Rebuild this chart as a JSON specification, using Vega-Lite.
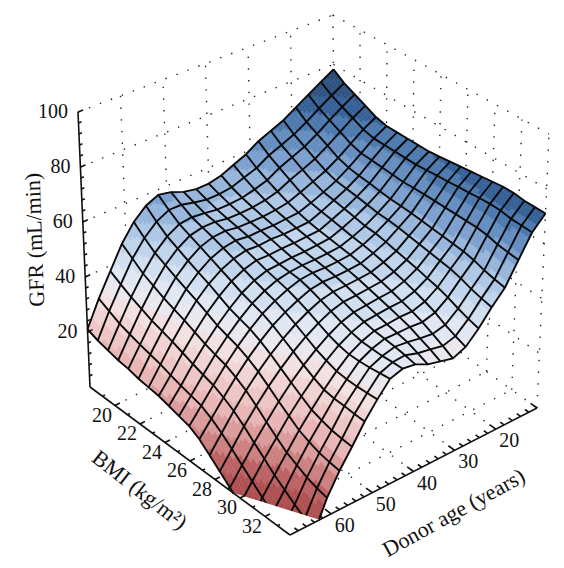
{"$schema":"https://vega.github.io/schema/vega-lite/v6.json","width":564,"height":568,"padding":0,"autosize":"none","background":"white","config":{"view":{"stroke":null}},
"datasets":{
"surface":[
{"age":70,"bmi":18,"gfr":21},{"age":70,"bmi":18.8,"gfr":19.5},{"age":70,"bmi":19.6,"gfr":18.5},{"age":70,"bmi":20.4,"gfr":17.5},{"age":70,"bmi":21.2,"gfr":17},{"age":70,"bmi":22,"gfr":16},{"age":70,"bmi":22.8,"gfr":15.5},{"age":70,"bmi":23.6,"gfr":15},{"age":70,"bmi":24.4,"gfr":14},{"age":70,"bmi":25.2,"gfr":13},{"age":70,"bmi":26,"gfr":12},{"age":70,"bmi":26.8,"gfr":10},{"age":70,"bmi":27.6,"gfr":7},{"age":70,"bmi":28.4,"gfr":4},{"age":70,"bmi":29.2,"gfr":1},{"age":70,"bmi":30,"gfr":-2},{"age":70,"bmi":30.8,"gfr":-5},{"age":70,"bmi":31.6,"gfr":-8},{"age":70,"bmi":32.4,"gfr":-11},{"age":70,"bmi":33.2,"gfr":-14},{"age":70,"bmi":34,"gfr":-16},
{"age":67,"bmi":18,"gfr":30},{"age":67,"bmi":18.8,"gfr":28},{"age":67,"bmi":19.6,"gfr":26},{"age":67,"bmi":20.4,"gfr":24.7},{"age":67,"bmi":21.2,"gfr":23.5},{"age":67,"bmi":22,"gfr":22.5},{"age":67,"bmi":22.8,"gfr":21.5},{"age":67,"bmi":23.6,"gfr":20.2},{"age":67,"bmi":24.4,"gfr":19},{"age":67,"bmi":25.2,"gfr":18},{"age":67,"bmi":26,"gfr":17},{"age":67,"bmi":26.8,"gfr":15},{"age":67,"bmi":27.6,"gfr":12.5},{"age":67,"bmi":28.4,"gfr":9.5},{"age":67,"bmi":29.2,"gfr":6.5},{"age":67,"bmi":30,"gfr":3.5},{"age":67,"bmi":30.8,"gfr":0.5},{"age":67,"bmi":31.6,"gfr":-2.3},{"age":67,"bmi":32.4,"gfr":-5},{"age":67,"bmi":33.2,"gfr":-7.5},{"age":67,"bmi":34,"gfr":-10},
{"age":64,"bmi":18,"gfr":38},{"age":64,"bmi":18.8,"gfr":35.6},{"age":64,"bmi":19.6,"gfr":33.5},{"age":64,"bmi":20.4,"gfr":31.7},{"age":64,"bmi":21.2,"gfr":30},{"age":64,"bmi":22,"gfr":28.7},{"age":64,"bmi":22.8,"gfr":27.5},{"age":64,"bmi":23.6,"gfr":26},{"age":64,"bmi":24.4,"gfr":24.5},{"age":64,"bmi":25.2,"gfr":23.2},{"age":64,"bmi":26,"gfr":22},{"age":64,"bmi":26.8,"gfr":20.2},{"age":64,"bmi":27.6,"gfr":18},{"age":64,"bmi":28.4,"gfr":15.2},{"age":64,"bmi":29.2,"gfr":12},{"age":64,"bmi":30,"gfr":9},{"age":64,"bmi":30.8,"gfr":6},{"age":64,"bmi":31.6,"gfr":3.5},{"age":64,"bmi":32.4,"gfr":1},{"age":64,"bmi":33.2,"gfr":-1.2},{"age":64,"bmi":34,"gfr":-3},
{"age":61,"bmi":18,"gfr":46},{"age":61,"bmi":18.8,"gfr":43},{"age":61,"bmi":19.6,"gfr":40},{"age":61,"bmi":20.4,"gfr":38},{"age":61,"bmi":21.2,"gfr":36},{"age":61,"bmi":22,"gfr":34.4},{"age":61,"bmi":22.8,"gfr":33},{"age":61,"bmi":23.6,"gfr":31.2},{"age":61,"bmi":24.4,"gfr":29.5},{"age":61,"bmi":25.2,"gfr":28.2},{"age":61,"bmi":26,"gfr":27},{"age":61,"bmi":26.8,"gfr":25.2},{"age":61,"bmi":27.6,"gfr":23},{"age":61,"bmi":28.4,"gfr":20.2},{"age":61,"bmi":29.2,"gfr":17},{"age":61,"bmi":30,"gfr":14.2},{"age":61,"bmi":30.8,"gfr":11.5},{"age":61,"bmi":31.6,"gfr":9.7},{"age":61,"bmi":32.4,"gfr":8},{"age":61,"bmi":33.2,"gfr":6.8},{"age":61,"bmi":34,"gfr":6},
{"age":58,"bmi":18,"gfr":52},{"age":58,"bmi":18.8,"gfr":48.5},{"age":58,"bmi":19.6,"gfr":45.5},{"age":58,"bmi":20.4,"gfr":43.5},{"age":58,"bmi":21.2,"gfr":41.5},{"age":58,"bmi":22,"gfr":39.7},{"age":58,"bmi":22.8,"gfr":38},{"age":58,"bmi":23.6,"gfr":36},{"age":58,"bmi":24.4,"gfr":34},{"age":58,"bmi":25.2,"gfr":32.7},{"age":58,"bmi":26,"gfr":31.5},{"age":58,"bmi":26.8,"gfr":29.7},{"age":58,"bmi":27.6,"gfr":27.5},{"age":58,"bmi":28.4,"gfr":24.8},{"age":58,"bmi":29.2,"gfr":22},{"age":58,"bmi":30,"gfr":19.5},{"age":58,"bmi":30.8,"gfr":17},{"age":58,"bmi":31.6,"gfr":15.5},{"age":58,"bmi":32.4,"gfr":14.2},{"age":58,"bmi":33.2,"gfr":13.5},{"age":58,"bmi":34,"gfr":13},
{"age":55,"bmi":18,"gfr":56},{"age":55,"bmi":18.8,"gfr":52.5},{"age":55,"bmi":19.6,"gfr":49.5},{"age":55,"bmi":20.4,"gfr":47.5},{"age":55,"bmi":21.2,"gfr":45.5},{"age":55,"bmi":22,"gfr":43.7},{"age":55,"bmi":22.8,"gfr":42},{"age":55,"bmi":23.6,"gfr":40},{"age":55,"bmi":24.4,"gfr":38},{"age":55,"bmi":25.2,"gfr":36.7},{"age":55,"bmi":26,"gfr":35.5},{"age":55,"bmi":26.8,"gfr":33.7},{"age":55,"bmi":27.6,"gfr":31.5},{"age":55,"bmi":28.4,"gfr":29},{"age":55,"bmi":29.2,"gfr":26.5},{"age":55,"bmi":30,"gfr":24.2},{"age":55,"bmi":30.8,"gfr":22},{"age":55,"bmi":31.6,"gfr":20.8},{"age":55,"bmi":32.4,"gfr":19.8},{"age":55,"bmi":33.2,"gfr":19.3},{"age":55,"bmi":34,"gfr":19},
{"age":52,"bmi":18,"gfr":58},{"age":52,"bmi":18.8,"gfr":54.8},{"age":52,"bmi":19.6,"gfr":52},{"age":52,"bmi":20.4,"gfr":50.2},{"age":52,"bmi":21.2,"gfr":48.5},{"age":52,"bmi":22,"gfr":46.7},{"age":52,"bmi":22.8,"gfr":45},{"age":52,"bmi":23.6,"gfr":43.3},{"age":52,"bmi":24.4,"gfr":41.5},{"age":52,"bmi":25.2,"gfr":40.2},{"age":52,"bmi":26,"gfr":39},{"age":52,"bmi":26.8,"gfr":37.2},{"age":52,"bmi":27.6,"gfr":35},{"age":52,"bmi":28.4,"gfr":32.8},{"age":52,"bmi":29.2,"gfr":30.5},{"age":52,"bmi":30,"gfr":28.5},{"age":52,"bmi":30.8,"gfr":26.8},{"age":52,"bmi":31.6,"gfr":26.2},{"age":52,"bmi":32.4,"gfr":26},{"age":52,"bmi":33.2,"gfr":25.7},{"age":52,"bmi":34,"gfr":25.5},
{"age":49,"bmi":18,"gfr":57},{"age":49,"bmi":18.8,"gfr":54.7},{"age":49,"bmi":19.6,"gfr":52.5},{"age":49,"bmi":20.4,"gfr":51.2},{"age":49,"bmi":21.2,"gfr":50},{"age":49,"bmi":22,"gfr":48.5},{"age":49,"bmi":22.8,"gfr":47},{"age":49,"bmi":23.6,"gfr":45.5},{"age":49,"bmi":24.4,"gfr":44},{"age":49,"bmi":25.2,"gfr":42.7},{"age":49,"bmi":26,"gfr":41.5},{"age":49,"bmi":26.8,"gfr":39.9},{"age":49,"bmi":27.6,"gfr":38},{"age":49,"bmi":28.4,"gfr":36},{"age":49,"bmi":29.2,"gfr":34},{"age":49,"bmi":30,"gfr":32.5},{"age":49,"bmi":30.8,"gfr":31.2},{"age":49,"bmi":31.6,"gfr":30.8},{"age":49,"bmi":32.4,"gfr":30.7},{"age":49,"bmi":33.2,"gfr":30.8},{"age":49,"bmi":34,"gfr":31},
{"age":46,"bmi":18,"gfr":55},{"age":46,"bmi":18.8,"gfr":53.5},{"age":46,"bmi":19.6,"gfr":52},{"age":46,"bmi":20.4,"gfr":51.2},{"age":46,"bmi":21.2,"gfr":50.3},{"age":46,"bmi":22,"gfr":49.2},{"age":46,"bmi":22.8,"gfr":48},{"age":46,"bmi":23.6,"gfr":46.8},{"age":46,"bmi":24.4,"gfr":45.5},{"age":46,"bmi":25.2,"gfr":44.5},{"age":46,"bmi":26,"gfr":43.5},{"age":46,"bmi":26.8,"gfr":42.1},{"age":46,"bmi":27.6,"gfr":40.5},{"age":46,"bmi":28.4,"gfr":38.8},{"age":46,"bmi":29.2,"gfr":37},{"age":46,"bmi":30,"gfr":35.8},{"age":46,"bmi":30.8,"gfr":35},{"age":46,"bmi":31.6,"gfr":35},{"age":46,"bmi":32.4,"gfr":35.2},{"age":46,"bmi":33.2,"gfr":35.6},{"age":46,"bmi":34,"gfr":36},
{"age":43,"bmi":18,"gfr":54},{"age":43,"bmi":18.8,"gfr":52.5},{"age":43,"bmi":19.6,"gfr":51.2},{"age":43,"bmi":20.4,"gfr":50.3},{"age":43,"bmi":21.2,"gfr":49.5},{"age":43,"bmi":22,"gfr":48.6},{"age":43,"bmi":22.8,"gfr":47.7},{"age":43,"bmi":23.6,"gfr":46.7},{"age":43,"bmi":24.4,"gfr":45.8},{"age":43,"bmi":25.2,"gfr":45.4},{"age":43,"bmi":26,"gfr":45},{"age":43,"bmi":26.8,"gfr":43.9},{"age":43,"bmi":27.6,"gfr":42.5},{"age":43,"bmi":28.4,"gfr":41},{"age":43,"bmi":29.2,"gfr":39.5},{"age":43,"bmi":30,"gfr":38.3},{"age":43,"bmi":30.8,"gfr":37.5},{"age":43,"bmi":31.6,"gfr":37.3},{"age":43,"bmi":32.4,"gfr":37.2},{"age":43,"bmi":33.2,"gfr":37.4},{"age":43,"bmi":34,"gfr":37.5},
{"age":40,"bmi":18,"gfr":54},{"age":40,"bmi":18.8,"gfr":52.5},{"age":40,"bmi":19.6,"gfr":51.2},{"age":40,"bmi":20.4,"gfr":50.2},{"age":40,"bmi":21.2,"gfr":49.4},{"age":40,"bmi":22,"gfr":48.7},{"age":40,"bmi":22.8,"gfr":48},{"age":40,"bmi":23.6,"gfr":47},{"age":40,"bmi":24.4,"gfr":46.2},{"age":40,"bmi":25.2,"gfr":45.8},{"age":40,"bmi":26,"gfr":45.5},{"age":40,"bmi":26.8,"gfr":44.6},{"age":40,"bmi":27.6,"gfr":43.5},{"age":40,"bmi":28.4,"gfr":42.3},{"age":40,"bmi":29.2,"gfr":41},{"age":40,"bmi":30,"gfr":40},{"age":40,"bmi":30.8,"gfr":39.2},{"age":40,"bmi":31.6,"gfr":38.8},{"age":40,"bmi":32.4,"gfr":38.4},{"age":40,"bmi":33.2,"gfr":37.8},{"age":40,"bmi":34,"gfr":37},
{"age":37,"bmi":18,"gfr":55},{"age":37,"bmi":18.8,"gfr":53},{"age":37,"bmi":19.6,"gfr":51.5},{"age":37,"bmi":20.4,"gfr":50.4},{"age":37,"bmi":21.2,"gfr":49.4},{"age":37,"bmi":22,"gfr":48.6},{"age":37,"bmi":22.8,"gfr":47.8},{"age":37,"bmi":23.6,"gfr":47},{"age":37,"bmi":24.4,"gfr":46.3},{"age":37,"bmi":25.2,"gfr":45.8},{"age":37,"bmi":26,"gfr":45.3},{"age":37,"bmi":26.8,"gfr":44.6},{"age":37,"bmi":27.6,"gfr":43.7},{"age":37,"bmi":28.4,"gfr":42.6},{"age":37,"bmi":29.2,"gfr":41.5},{"age":37,"bmi":30,"gfr":40.5},{"age":37,"bmi":30.8,"gfr":39.5},{"age":37,"bmi":31.6,"gfr":38.8},{"age":37,"bmi":32.4,"gfr":38},{"age":37,"bmi":33.2,"gfr":36.5},{"age":37,"bmi":34,"gfr":35},
{"age":34,"bmi":18,"gfr":57},{"age":34,"bmi":18.8,"gfr":54.6},{"age":34,"bmi":19.6,"gfr":52.6},{"age":34,"bmi":20.4,"gfr":51},{"age":34,"bmi":21.2,"gfr":49.8},{"age":34,"bmi":22,"gfr":48.9},{"age":34,"bmi":22.8,"gfr":48},{"age":34,"bmi":23.6,"gfr":47.3},{"age":34,"bmi":24.4,"gfr":46.6},{"age":34,"bmi":25.2,"gfr":46},{"age":34,"bmi":26,"gfr":45.5},{"age":34,"bmi":26.8,"gfr":44.8},{"age":34,"bmi":27.6,"gfr":44},{"age":34,"bmi":28.4,"gfr":43},{"age":34,"bmi":29.2,"gfr":42},{"age":34,"bmi":30,"gfr":41},{"age":34,"bmi":30.8,"gfr":40},{"age":34,"bmi":31.6,"gfr":38.9},{"age":34,"bmi":32.4,"gfr":37.3},{"age":34,"bmi":33.2,"gfr":35.8},{"age":34,"bmi":34,"gfr":34},
{"age":31,"bmi":18,"gfr":59},{"age":31,"bmi":18.8,"gfr":56.2},{"age":31,"bmi":19.6,"gfr":54},{"age":31,"bmi":20.4,"gfr":52.2},{"age":31,"bmi":21.2,"gfr":50.5},{"age":31,"bmi":22,"gfr":49.2},{"age":31,"bmi":22.8,"gfr":48.2},{"age":31,"bmi":23.6,"gfr":47.5},{"age":31,"bmi":24.4,"gfr":47},{"age":31,"bmi":25.2,"gfr":46.4},{"age":31,"bmi":26,"gfr":45.9},{"age":31,"bmi":26.8,"gfr":45.2},{"age":31,"bmi":27.6,"gfr":44.4},{"age":31,"bmi":28.4,"gfr":43.5},{"age":31,"bmi":29.2,"gfr":42.4},{"age":31,"bmi":30,"gfr":41.2},{"age":31,"bmi":30.8,"gfr":40},{"age":31,"bmi":31.6,"gfr":38.6},{"age":31,"bmi":32.4,"gfr":36.8},{"age":31,"bmi":33.2,"gfr":35},{"age":31,"bmi":34,"gfr":33},
{"age":28,"bmi":18,"gfr":62},{"age":28,"bmi":18.8,"gfr":59},{"age":28,"bmi":19.6,"gfr":56.7},{"age":28,"bmi":20.4,"gfr":54.5},{"age":28,"bmi":21.2,"gfr":52.3},{"age":28,"bmi":22,"gfr":50.8},{"age":28,"bmi":22.8,"gfr":50},{"age":28,"bmi":23.6,"gfr":49.4},{"age":28,"bmi":24.4,"gfr":48.7},{"age":28,"bmi":25.2,"gfr":48},{"age":28,"bmi":26,"gfr":47.5},{"age":28,"bmi":26.8,"gfr":46.9},{"age":28,"bmi":27.6,"gfr":46},{"age":28,"bmi":28.4,"gfr":45},{"age":28,"bmi":29.2,"gfr":44},{"age":28,"bmi":30,"gfr":42.8},{"age":28,"bmi":30.8,"gfr":41.5},{"age":28,"bmi":31.6,"gfr":40},{"age":28,"bmi":32.4,"gfr":38},{"age":28,"bmi":33.2,"gfr":36.4},{"age":28,"bmi":34,"gfr":35},
{"age":25,"bmi":18,"gfr":64},{"age":25,"bmi":18.8,"gfr":60.9},{"age":25,"bmi":19.6,"gfr":58.7},{"age":25,"bmi":20.4,"gfr":56.4},{"age":25,"bmi":21.2,"gfr":54.3},{"age":25,"bmi":22,"gfr":52.8},{"age":25,"bmi":22.8,"gfr":52.2},{"age":25,"bmi":23.6,"gfr":51.5},{"age":25,"bmi":24.4,"gfr":50.8},{"age":25,"bmi":25.2,"gfr":50},{"age":25,"bmi":26,"gfr":49.7},{"age":25,"bmi":26.8,"gfr":49},{"age":25,"bmi":27.6,"gfr":48.1},{"age":25,"bmi":28.4,"gfr":47.3},{"age":25,"bmi":29.2,"gfr":46.5},{"age":25,"bmi":30,"gfr":45.5},{"age":25,"bmi":30.8,"gfr":44.6},{"age":25,"bmi":31.6,"gfr":43.4},{"age":25,"bmi":32.4,"gfr":41.8},{"age":25,"bmi":33.2,"gfr":40.5},{"age":25,"bmi":34,"gfr":39.5},
{"age":22,"bmi":18,"gfr":66},{"age":22,"bmi":18.8,"gfr":63},{"age":22,"bmi":19.6,"gfr":60.7},{"age":22,"bmi":20.4,"gfr":58.5},{"age":22,"bmi":21.2,"gfr":56.4},{"age":22,"bmi":22,"gfr":55},{"age":22,"bmi":22.8,"gfr":54.5},{"age":22,"bmi":23.6,"gfr":54},{"age":22,"bmi":24.4,"gfr":53.4},{"age":22,"bmi":25.2,"gfr":52.8},{"age":22,"bmi":26,"gfr":52.6},{"age":22,"bmi":26.8,"gfr":52.2},{"age":22,"bmi":27.6,"gfr":51.6},{"age":22,"bmi":28.4,"gfr":51},{"age":22,"bmi":29.2,"gfr":50.4},{"age":22,"bmi":30,"gfr":49.8},{"age":22,"bmi":30.8,"gfr":49.2},{"age":22,"bmi":31.6,"gfr":48.2},{"age":22,"bmi":32.4,"gfr":46.8},{"age":22,"bmi":33.2,"gfr":45.8},{"age":22,"bmi":34,"gfr":45},
{"age":19,"bmi":18,"gfr":69},{"age":19,"bmi":18.8,"gfr":65.8},{"age":19,"bmi":19.6,"gfr":63.6},{"age":19,"bmi":20.4,"gfr":61.5},{"age":19,"bmi":21.2,"gfr":59.3},{"age":19,"bmi":22,"gfr":58},{"age":19,"bmi":22.8,"gfr":57.4},{"age":19,"bmi":23.6,"gfr":57},{"age":19,"bmi":24.4,"gfr":56.5},{"age":19,"bmi":25.2,"gfr":56},{"age":19,"bmi":26,"gfr":55.8},{"age":19,"bmi":26.8,"gfr":55.6},{"age":19,"bmi":27.6,"gfr":55.2},{"age":19,"bmi":28.4,"gfr":54.8},{"age":19,"bmi":29.2,"gfr":54.4},{"age":19,"bmi":30,"gfr":54},{"age":19,"bmi":30.8,"gfr":53.6},{"age":19,"bmi":31.6,"gfr":52.8},{"age":19,"bmi":32.4,"gfr":51.5},{"age":19,"bmi":33.2,"gfr":50.7},{"age":19,"bmi":34,"gfr":50},
{"age":16,"bmi":18,"gfr":72},{"age":16,"bmi":18.8,"gfr":69},{"age":16,"bmi":19.6,"gfr":66.9},{"age":16,"bmi":20.4,"gfr":64.8},{"age":16,"bmi":21.2,"gfr":62.7},{"age":16,"bmi":22,"gfr":61.5},{"age":16,"bmi":22.8,"gfr":61.3},{"age":16,"bmi":23.6,"gfr":61},{"age":16,"bmi":24.4,"gfr":60.7},{"age":16,"bmi":25.2,"gfr":60.4},{"age":16,"bmi":26,"gfr":60.6},{"age":16,"bmi":26.8,"gfr":60.6},{"age":16,"bmi":27.6,"gfr":60.6},{"age":16,"bmi":28.4,"gfr":60.5},{"age":16,"bmi":29.2,"gfr":60.5},{"age":16,"bmi":30,"gfr":60.4},{"age":16,"bmi":30.8,"gfr":60.4},{"age":16,"bmi":31.6,"gfr":59.9},{"age":16,"bmi":32.4,"gfr":58.9},{"age":16,"bmi":33.2,"gfr":58.4},{"age":16,"bmi":34,"gfr":58},
{"age":13,"bmi":18,"gfr":75},{"age":13,"bmi":18.8,"gfr":72.1},{"age":13,"bmi":19.6,"gfr":70.1},{"age":13,"bmi":20.4,"gfr":68.2},{"age":13,"bmi":21.2,"gfr":66.2},{"age":13,"bmi":22,"gfr":65.2},{"age":13,"bmi":22.8,"gfr":65.1},{"age":13,"bmi":23.6,"gfr":65.1},{"age":13,"bmi":24.4,"gfr":65},{"age":13,"bmi":25.2,"gfr":65},{"age":13,"bmi":26,"gfr":65.3},{"age":13,"bmi":26.8,"gfr":65.7},{"age":13,"bmi":27.6,"gfr":65.9},{"age":13,"bmi":28.4,"gfr":66.3},{"age":13,"bmi":29.2,"gfr":66.5},{"age":13,"bmi":30,"gfr":66.9},{"age":13,"bmi":30.8,"gfr":67.1},{"age":13,"bmi":31.6,"gfr":67},{"age":13,"bmi":32.4,"gfr":66.3},{"age":13,"bmi":33.2,"gfr":66.2},{"age":13,"bmi":34,"gfr":66},
{"age":10,"bmi":18,"gfr":78},{"age":10,"bmi":18.8,"gfr":75},{"age":10,"bmi":19.6,"gfr":73},{"age":10,"bmi":20.4,"gfr":71},{"age":10,"bmi":21.2,"gfr":69},{"age":10,"bmi":22,"gfr":68},{"age":10,"bmi":22.8,"gfr":68},{"age":10,"bmi":23.6,"gfr":68},{"age":10,"bmi":24.4,"gfr":68},{"age":10,"bmi":25.2,"gfr":68},{"age":10,"bmi":26,"gfr":68.5},{"age":10,"bmi":26.8,"gfr":69},{"age":10,"bmi":27.6,"gfr":69.5},{"age":10,"bmi":28.4,"gfr":70},{"age":10,"bmi":29.2,"gfr":70.5},{"age":10,"bmi":30,"gfr":71},{"age":10,"bmi":30.8,"gfr":71.5},{"age":10,"bmi":31.6,"gfr":71.5},{"age":10,"bmi":32.4,"gfr":71},{"age":10,"bmi":33.2,"gfr":71},{"age":10,"bmi":34,"gfr":71}
],
"grid":[
{"bmi":18,"age":70,"gfr":20,"bmi2":18,"age2":10,"gfr2":20},{"bmi":18,"age":70,"gfr":40,"bmi2":18,"age2":10,"gfr2":40},{"bmi":18,"age":70,"gfr":60,"bmi2":18,"age2":10,"gfr2":60},{"bmi":18,"age":70,"gfr":80,"bmi2":18,"age2":10,"gfr2":80},{"bmi":18,"age":70,"gfr":100,"bmi2":18,"age2":10,"gfr2":100},
{"bmi":18,"age":60,"gfr":0,"bmi2":18,"age2":60,"gfr2":100},{"bmi":18,"age":50,"gfr":0,"bmi2":18,"age2":50,"gfr2":100},{"bmi":18,"age":40,"gfr":0,"bmi2":18,"age2":40,"gfr2":100},{"bmi":18,"age":30,"gfr":0,"bmi2":18,"age2":30,"gfr2":100},{"bmi":18,"age":20,"gfr":0,"bmi2":18,"age2":20,"gfr2":100},{"bmi":18,"age":10,"gfr":0,"bmi2":18,"age2":10,"gfr2":100},
{"bmi":18,"age":10,"gfr":20,"bmi2":34,"age2":10,"gfr2":20},{"bmi":18,"age":10,"gfr":40,"bmi2":34,"age2":10,"gfr2":40},{"bmi":18,"age":10,"gfr":60,"bmi2":34,"age2":10,"gfr2":60},{"bmi":18,"age":10,"gfr":80,"bmi2":34,"age2":10,"gfr2":80},{"bmi":18,"age":10,"gfr":100,"bmi2":34,"age2":10,"gfr2":100},
{"bmi":20,"age":10,"gfr":0,"bmi2":20,"age2":10,"gfr2":100},{"bmi":22,"age":10,"gfr":0,"bmi2":22,"age2":10,"gfr2":100},{"bmi":24,"age":10,"gfr":0,"bmi2":24,"age2":10,"gfr2":100},{"bmi":26,"age":10,"gfr":0,"bmi2":26,"age2":10,"gfr2":100},{"bmi":28,"age":10,"gfr":0,"bmi2":28,"age2":10,"gfr2":100},{"bmi":30,"age":10,"gfr":0,"bmi2":30,"age2":10,"gfr2":100},{"bmi":32,"age":10,"gfr":0,"bmi2":32,"age2":10,"gfr2":100},{"bmi":34,"age":10,"gfr":0,"bmi2":34,"age2":10,"gfr2":100},
{"bmi":20,"age":70,"gfr":0,"bmi2":20,"age2":10,"gfr2":0},{"bmi":22,"age":70,"gfr":0,"bmi2":22,"age2":10,"gfr2":0},{"bmi":24,"age":70,"gfr":0,"bmi2":24,"age2":10,"gfr2":0},{"bmi":26,"age":70,"gfr":0,"bmi2":26,"age2":10,"gfr2":0},{"bmi":28,"age":70,"gfr":0,"bmi2":28,"age2":10,"gfr2":0},{"bmi":30,"age":70,"gfr":0,"bmi2":30,"age2":10,"gfr2":0},{"bmi":32,"age":70,"gfr":0,"bmi2":32,"age2":10,"gfr2":0},
{"bmi":18,"age":60,"gfr":0,"bmi2":34,"age2":60,"gfr2":0},{"bmi":18,"age":50,"gfr":0,"bmi2":34,"age2":50,"gfr2":0},{"bmi":18,"age":40,"gfr":0,"bmi2":34,"age2":40,"gfr2":0},{"bmi":18,"age":30,"gfr":0,"bmi2":34,"age2":30,"gfr2":0},{"bmi":18,"age":20,"gfr":0,"bmi2":34,"age2":20,"gfr2":0},{"bmi":18,"age":10,"gfr":0,"bmi2":34,"age2":10,"gfr2":0}
],
"axes":[
{"bmi":18,"age":70,"gfr":0,"bmi2":18,"age2":70,"gfr2":100},{"bmi":18,"age":70,"gfr":0,"bmi2":34,"age2":70,"gfr2":0},{"bmi":34,"age":70,"gfr":0,"bmi2":34,"age2":10,"gfr2":0},
{"bmi":18,"age":70,"gfr":4,"bmi2":18,"age2":69.3,"gfr2":4},{"bmi":18,"age":70,"gfr":8,"bmi2":18,"age2":69.3,"gfr2":8},{"bmi":18,"age":70,"gfr":12,"bmi2":18,"age2":69.3,"gfr2":12},{"bmi":18,"age":70,"gfr":16,"bmi2":18,"age2":69.3,"gfr2":16},{"bmi":18,"age":70,"gfr":20,"bmi2":18,"age2":68.8,"gfr2":20},{"bmi":18,"age":70,"gfr":24,"bmi2":18,"age2":69.3,"gfr2":24},{"bmi":18,"age":70,"gfr":28,"bmi2":18,"age2":69.3,"gfr2":28},{"bmi":18,"age":70,"gfr":32,"bmi2":18,"age2":69.3,"gfr2":32},{"bmi":18,"age":70,"gfr":36,"bmi2":18,"age2":69.3,"gfr2":36},{"bmi":18,"age":70,"gfr":40,"bmi2":18,"age2":68.8,"gfr2":40},{"bmi":18,"age":70,"gfr":44,"bmi2":18,"age2":69.3,"gfr2":44},{"bmi":18,"age":70,"gfr":48,"bmi2":18,"age2":69.3,"gfr2":48},{"bmi":18,"age":70,"gfr":52,"bmi2":18,"age2":69.3,"gfr2":52},{"bmi":18,"age":70,"gfr":56,"bmi2":18,"age2":69.3,"gfr2":56},{"bmi":18,"age":70,"gfr":60,"bmi2":18,"age2":68.8,"gfr2":60},{"bmi":18,"age":70,"gfr":64,"bmi2":18,"age2":69.3,"gfr2":64},{"bmi":18,"age":70,"gfr":68,"bmi2":18,"age2":69.3,"gfr2":68},{"bmi":18,"age":70,"gfr":72,"bmi2":18,"age2":69.3,"gfr2":72},{"bmi":18,"age":70,"gfr":76,"bmi2":18,"age2":69.3,"gfr2":76},{"bmi":18,"age":70,"gfr":80,"bmi2":18,"age2":68.8,"gfr2":80},{"bmi":18,"age":70,"gfr":84,"bmi2":18,"age2":69.3,"gfr2":84},{"bmi":18,"age":70,"gfr":88,"bmi2":18,"age2":69.3,"gfr2":88},{"bmi":18,"age":70,"gfr":92,"bmi2":18,"age2":69.3,"gfr2":92},{"bmi":18,"age":70,"gfr":96,"bmi2":18,"age2":69.3,"gfr2":96},{"bmi":18,"age":70,"gfr":100,"bmi2":18,"age2":68.8,"gfr2":100},
{"bmi":19,"age":70,"gfr":0,"bmi2":19,"age2":69.4,"gfr2":0},{"bmi":20,"age":70,"gfr":0,"bmi2":20,"age2":68.8,"gfr2":0},{"bmi":21,"age":70,"gfr":0,"bmi2":21,"age2":69.4,"gfr2":0},{"bmi":22,"age":70,"gfr":0,"bmi2":22,"age2":68.8,"gfr2":0},{"bmi":23,"age":70,"gfr":0,"bmi2":23,"age2":69.4,"gfr2":0},{"bmi":24,"age":70,"gfr":0,"bmi2":24,"age2":68.8,"gfr2":0},{"bmi":25,"age":70,"gfr":0,"bmi2":25,"age2":69.4,"gfr2":0},{"bmi":26,"age":70,"gfr":0,"bmi2":26,"age2":68.8,"gfr2":0},{"bmi":27,"age":70,"gfr":0,"bmi2":27,"age2":69.4,"gfr2":0},{"bmi":28,"age":70,"gfr":0,"bmi2":28,"age2":68.8,"gfr2":0},{"bmi":29,"age":70,"gfr":0,"bmi2":29,"age2":69.4,"gfr2":0},{"bmi":30,"age":70,"gfr":0,"bmi2":30,"age2":68.8,"gfr2":0},{"bmi":31,"age":70,"gfr":0,"bmi2":31,"age2":69.4,"gfr2":0},{"bmi":32,"age":70,"gfr":0,"bmi2":32,"age2":68.8,"gfr2":0},{"bmi":33,"age":70,"gfr":0,"bmi2":33,"age2":69.4,"gfr2":0},
{"bmi":34,"age":68,"gfr":0,"bmi2":33.7,"age2":68,"gfr2":0},{"bmi":34,"age":66,"gfr":0,"bmi2":33.7,"age2":66,"gfr2":0},{"bmi":34,"age":64,"gfr":0,"bmi2":33.7,"age2":64,"gfr2":0},{"bmi":34,"age":62,"gfr":0,"bmi2":33.7,"age2":62,"gfr2":0},{"bmi":34,"age":60,"gfr":0,"bmi2":33.5,"age2":60,"gfr2":0},{"bmi":34,"age":58,"gfr":0,"bmi2":33.7,"age2":58,"gfr2":0},{"bmi":34,"age":56,"gfr":0,"bmi2":33.7,"age2":56,"gfr2":0},{"bmi":34,"age":54,"gfr":0,"bmi2":33.7,"age2":54,"gfr2":0},{"bmi":34,"age":52,"gfr":0,"bmi2":33.7,"age2":52,"gfr2":0},{"bmi":34,"age":50,"gfr":0,"bmi2":33.5,"age2":50,"gfr2":0},{"bmi":34,"age":48,"gfr":0,"bmi2":33.7,"age2":48,"gfr2":0},{"bmi":34,"age":46,"gfr":0,"bmi2":33.7,"age2":46,"gfr2":0},{"bmi":34,"age":44,"gfr":0,"bmi2":33.7,"age2":44,"gfr2":0},{"bmi":34,"age":42,"gfr":0,"bmi2":33.7,"age2":42,"gfr2":0},{"bmi":34,"age":40,"gfr":0,"bmi2":33.5,"age2":40,"gfr2":0},{"bmi":34,"age":38,"gfr":0,"bmi2":33.7,"age2":38,"gfr2":0},{"bmi":34,"age":36,"gfr":0,"bmi2":33.7,"age2":36,"gfr2":0},{"bmi":34,"age":34,"gfr":0,"bmi2":33.7,"age2":34,"gfr2":0},{"bmi":34,"age":32,"gfr":0,"bmi2":33.7,"age2":32,"gfr2":0},{"bmi":34,"age":30,"gfr":0,"bmi2":33.5,"age2":30,"gfr2":0},{"bmi":34,"age":28,"gfr":0,"bmi2":33.7,"age2":28,"gfr2":0},{"bmi":34,"age":26,"gfr":0,"bmi2":33.7,"age2":26,"gfr2":0},{"bmi":34,"age":24,"gfr":0,"bmi2":33.7,"age2":24,"gfr2":0},{"bmi":34,"age":22,"gfr":0,"bmi2":33.7,"age2":22,"gfr2":0},{"bmi":34,"age":20,"gfr":0,"bmi2":33.5,"age2":20,"gfr2":0},{"bmi":34,"age":18,"gfr":0,"bmi2":33.7,"age2":18,"gfr2":0},{"bmi":34,"age":16,"gfr":0,"bmi2":33.7,"age2":16,"gfr2":0},{"bmi":34,"age":14,"gfr":0,"bmi2":33.7,"age2":14,"gfr2":0},{"bmi":34,"age":12,"gfr":0,"bmi2":33.7,"age2":12,"gfr2":0},{"bmi":34,"age":10,"gfr":0,"bmi2":33.5,"age2":10,"gfr2":0}
]
},
"layer":[
{"data":{"name":"grid"},"mark":{"type":"rule","color":"#222222","strokeWidth":1.4,"strokeDash":[1.4,10.3]},
"transform":[{"calculate":"(datum.bmi-18)/16","as":"u"},{"calculate":"(70-datum.age)/60","as":"v"},{"calculate":"datum.gfr/100","as":"w"},{"calculate":"(datum.bmi2-18)/16","as":"p"},{"calculate":"(70-datum.age2)/60","as":"q"},{"calculate":"datum.gfr2/100","as":"r"},
{"calculate":"90+200*datum.u+245*datum.v+2*datum.u*datum.v+datum.w*(-12+10*datum.u+10*datum.v+4*datum.u*datum.v)","as":"x"},{"calculate":"387+148*datum.u-125*datum.v-2*datum.u*datum.v+datum.w*(-275-30*datum.u+28*datum.v+3*datum.u*datum.v)","as":"y"},
{"calculate":"90+200*datum.p+245*datum.q+2*datum.p*datum.q+datum.r*(-12+10*datum.p+10*datum.q+4*datum.p*datum.q)","as":"x2"},{"calculate":"387+148*datum.p-125*datum.q-2*datum.p*datum.q+datum.r*(-275-30*datum.p+28*datum.q+3*datum.p*datum.q)","as":"y2"}],
"encoding":{"x":{"field":"x","type":"quantitative","axis":null,"scale":{"domain":[0,564],"range":[0,564],"nice":false,"zero":false}},"y":{"field":"y","type":"quantitative","axis":null,"scale":{"domain":[0,568],"range":[0,568],"nice":false,"zero":false}},"x2":{"field":"x2"},"y2":{"field":"y2"}}},
{"data":{"name":"surface"},"mark":{"type":"geoshape","strokeWidth":0.5},"projection":{"type":"identity","scale":1,"translate":[0,0]},
"transform":[
{"window":[{"op":"lead","field":"gfr","as":"g10"}],"groupby":["age"],"sort":[{"field":"bmi","order":"ascending"}]},
{"window":[{"op":"lead","field":"gfr","as":"g01"},{"op":"lead","field":"g10","as":"g11"}],"groupby":["bmi"],"sort":[{"field":"age","order":"descending"}]},
{"filter":"datum.g10!=null&&datum.g01!=null&&datum.g11!=null"},
{"calculate":"(datum.bmi-18)/16","as":"u"},{"calculate":"(70-datum.age)/60","as":"v"},{"calculate":"datum.u+0.05","as":"p"},{"calculate":"datum.v+0.05","as":"q"},
{"calculate":"90+200*datum.u+245*datum.v+2*datum.u*datum.v+datum.gfr/100*(-12+10*datum.u+10*datum.v+4*datum.u*datum.v)","as":"X00"},
{"calculate":"90+200*datum.p+245*datum.v+2*datum.p*datum.v+datum.g10/100*(-12+10*datum.p+10*datum.v+4*datum.p*datum.v)","as":"X10"},
{"calculate":"90+200*datum.u+245*datum.q+2*datum.u*datum.q+datum.g01/100*(-12+10*datum.u+10*datum.q+4*datum.u*datum.q)","as":"X01"},
{"calculate":"90+200*datum.p+245*datum.q+2*datum.p*datum.q+datum.g11/100*(-12+10*datum.p+10*datum.q+4*datum.p*datum.q)","as":"X11"},
{"calculate":"387+148*datum.u-125*datum.v-2*datum.u*datum.v+datum.gfr/100*(-275-30*datum.u+28*datum.v+3*datum.u*datum.v)","as":"Y00"},
{"calculate":"387+148*datum.p-125*datum.v-2*datum.p*datum.v+datum.g10/100*(-275-30*datum.p+28*datum.v+3*datum.p*datum.v)","as":"Y10"},
{"calculate":"387+148*datum.u-125*datum.q-2*datum.u*datum.q+datum.g01/100*(-275-30*datum.u+28*datum.q+3*datum.u*datum.q)","as":"Y01"},
{"calculate":"387+148*datum.p-125*datum.q-2*datum.p*datum.q+datum.g11/100*(-275-30*datum.p+28*datum.q+3*datum.p*datum.q)","as":"Y11"},
{"calculate":"datum.X10-datum.X00","as":"Ax"},{"calculate":"datum.X01-datum.X00","as":"Bx"},{"calculate":"datum.X11-datum.X10-datum.X01+datum.X00","as":"Cx"},
{"calculate":"datum.Y10-datum.Y00","as":"Ay"},{"calculate":"datum.Y01-datum.Y00","as":"By"},{"calculate":"datum.Y11-datum.Y10-datum.Y01+datum.Y00","as":"Cy"},
{"calculate":"[0,0.2,0.4,0.6,0.8]","as":"sa"},{"flatten":["sa"]},{"calculate":"[0,0.2,0.4,0.6,0.8]","as":"sb"},{"flatten":["sb"]},
{"calculate":"datum.sa+0.2","as":"ea"},{"calculate":"datum.sb+0.2","as":"eb"},
{"calculate":"{type:'Feature',properties:{},geometry:{type:'Polygon',coordinates:[[[datum.X00+datum.Ax*datum.sa+datum.Bx*datum.sb+datum.Cx*datum.sa*datum.sb,datum.Y00+datum.Ay*datum.sa+datum.By*datum.sb+datum.Cy*datum.sa*datum.sb],[datum.X00+datum.Ax*datum.ea+datum.Bx*datum.sb+datum.Cx*datum.ea*datum.sb,datum.Y00+datum.Ay*datum.ea+datum.By*datum.sb+datum.Cy*datum.ea*datum.sb],[datum.X00+datum.Ax*datum.ea+datum.Bx*datum.eb+datum.Cx*datum.ea*datum.eb,datum.Y00+datum.Ay*datum.ea+datum.By*datum.eb+datum.Cy*datum.ea*datum.eb],[datum.X00+datum.Ax*datum.sa+datum.Bx*datum.eb+datum.Cx*datum.sa*datum.eb,datum.Y00+datum.Ay*datum.sa+datum.By*datum.eb+datum.Cy*datum.sa*datum.eb],[datum.X00+datum.Ax*datum.sa+datum.Bx*datum.sb+datum.Cx*datum.sa*datum.sb,datum.Y00+datum.Ay*datum.sa+datum.By*datum.sb+datum.Cy*datum.sa*datum.sb]]]}}","as":"geo"},
{"calculate":"(1-datum.sa-0.1)*(1-datum.sb-0.1)*datum.gfr+(datum.sa+0.1)*(1-datum.sb-0.1)*datum.g10+(1-datum.sa-0.1)*(datum.sb+0.1)*datum.g01+(datum.sa+0.1)*(datum.sb+0.1)*datum.g11","as":"zc"},
{"calculate":"floor(datum.zc/4)*4+2","as":"band"}
],
"encoding":{"shape":{"field":"geo","type":"geojson"},
"color":{"field":"band","type":"quantitative","legend":null,"scale":{"domain":[0,6,12,18,24,30,35,40,46,52,58,64,70,76,82],"range":["#a84648","#bb6163","#d48e8e","#e8b4b4","#f0cdcd","#f2e0e0","#e9e9f0","#d8e4f2","#bfd4ec","#a3c0e2","#7a9fce","#5583b8","#335f96","#284a74","#233f63"],"clamp":true}},
"stroke":{"field":"band","type":"quantitative","legend":null,"scale":{"domain":[0,6,12,18,24,30,35,40,46,52,58,64,70,76,82],"range":["#a84648","#bb6163","#d48e8e","#e8b4b4","#f0cdcd","#f2e0e0","#e9e9f0","#d8e4f2","#bfd4ec","#a3c0e2","#7a9fce","#5583b8","#335f96","#284a74","#233f63"],"clamp":true}}}},
{"data":{"name":"surface"},"mark":{"type":"line","color":"#0a0a0a","strokeWidth":1.9},
"transform":[{"calculate":"(datum.bmi-18)/16","as":"u"},{"calculate":"(70-datum.age)/60","as":"v"},{"calculate":"datum.gfr/100","as":"w"},{"calculate":"90+200*datum.u+245*datum.v+2*datum.u*datum.v+datum.w*(-12+10*datum.u+10*datum.v+4*datum.u*datum.v)","as":"x"},{"calculate":"387+148*datum.u-125*datum.v-2*datum.u*datum.v+datum.w*(-275-30*datum.u+28*datum.v+3*datum.u*datum.v)","as":"y"}],
"encoding":{"x":{"field":"x","type":"quantitative","axis":null,"scale":{"domain":[0,564],"range":[0,564],"nice":false,"zero":false}},"y":{"field":"y","type":"quantitative","axis":null,"scale":{"domain":[0,568],"range":[0,568],"nice":false,"zero":false}},"detail":{"field":"bmi"},"order":{"field":"age"}}},
{"data":{"name":"surface"},"mark":{"type":"line","color":"#0a0a0a","strokeWidth":1.9},
"transform":[{"calculate":"(datum.bmi-18)/16","as":"u"},{"calculate":"(70-datum.age)/60","as":"v"},{"calculate":"datum.gfr/100","as":"w"},{"calculate":"90+200*datum.u+245*datum.v+2*datum.u*datum.v+datum.w*(-12+10*datum.u+10*datum.v+4*datum.u*datum.v)","as":"x"},{"calculate":"387+148*datum.u-125*datum.v-2*datum.u*datum.v+datum.w*(-275-30*datum.u+28*datum.v+3*datum.u*datum.v)","as":"y"}],
"encoding":{"x":{"field":"x","type":"quantitative","axis":null,"scale":{"domain":[0,564],"range":[0,564],"nice":false,"zero":false}},"y":{"field":"y","type":"quantitative","axis":null,"scale":{"domain":[0,568],"range":[0,568],"nice":false,"zero":false}},"detail":{"field":"age"},"order":{"field":"bmi"}}},
{"data":{"values":[{"u1":0.715,"v2":0.12,"low":-0.3}]},"mark":{"type":"geoshape","fill":"white","stroke":"white","strokeWidth":0},"projection":{"type":"identity","scale":1,"translate":[0,0]},
"transform":[{"calculate":"{type:'Feature',properties:{},geometry:{type:'Polygon',coordinates:[[[90+200*datum.u1,387+148*datum.u1],[290+245*datum.v2+2*datum.v2,535-125*datum.v2-2*datum.v2],[290+245*datum.v2+2*datum.v2,600],[90+200*datum.u1,600],[90+200*datum.u1,387+148*datum.u1]]]}}","as":"geo"}],
"encoding":{"shape":{"field":"geo","type":"geojson"}}},
{"data":{"name":"axes"},"mark":{"type":"rule","color":"#111111","strokeWidth":1.6},
"transform":[{"calculate":"(datum.bmi-18)/16","as":"u"},{"calculate":"(70-datum.age)/60","as":"v"},{"calculate":"datum.gfr/100","as":"w"},{"calculate":"(datum.bmi2-18)/16","as":"p"},{"calculate":"(70-datum.age2)/60","as":"q"},{"calculate":"datum.gfr2/100","as":"r"},
{"calculate":"90+200*datum.u+245*datum.v+2*datum.u*datum.v+datum.w*(-12+10*datum.u+10*datum.v+4*datum.u*datum.v)","as":"x"},{"calculate":"387+148*datum.u-125*datum.v-2*datum.u*datum.v+datum.w*(-275-30*datum.u+28*datum.v+3*datum.u*datum.v)","as":"y"},
{"calculate":"90+200*datum.p+245*datum.q+2*datum.p*datum.q+datum.r*(-12+10*datum.p+10*datum.q+4*datum.p*datum.q)","as":"x2"},{"calculate":"387+148*datum.p-125*datum.q-2*datum.p*datum.q+datum.r*(-275-30*datum.p+28*datum.q+3*datum.p*datum.q)","as":"y2"}],
"encoding":{"x":{"field":"x","type":"quantitative","axis":null,"scale":{"domain":[0,564],"range":[0,564],"nice":false,"zero":false}},"y":{"field":"y","type":"quantitative","axis":null,"scale":{"domain":[0,568],"range":[0,568],"nice":false,"zero":false}},"x2":{"field":"x2"},"y2":{"field":"y2"}}},
{"data":{"values":[{"label":"20","gfr":20},{"label":"40","gfr":40},{"label":"60","gfr":60},{"label":"80","gfr":80},{"label":"100","gfr":100}]},"mark":{"type":"text","font":"Liberation Serif","fontSize":20,"align":"right","baseline":"middle","dx":-10,"color":"#111111"},
"transform":[{"calculate":"90-12*datum.gfr/100","as":"x"},{"calculate":"387-275*datum.gfr/100","as":"y"}],
"encoding":{"x":{"field":"x","type":"quantitative","axis":null,"scale":{"domain":[0,564],"range":[0,564],"nice":false,"zero":false}},"y":{"field":"y","type":"quantitative","axis":null,"scale":{"domain":[0,568],"range":[0,568],"nice":false,"zero":false}},"text":{"field":"label"}}},
{"data":{"values":[{"label":"20","bmi":20},{"label":"22","bmi":22},{"label":"24","bmi":24},{"label":"26","bmi":26},{"label":"28","bmi":28},{"label":"30","bmi":30},{"label":"32","bmi":32}]},"mark":{"type":"text","font":"Liberation Serif","fontSize":20,"align":"center","baseline":"middle","dx":-13,"dy":10,"color":"#111111"},
"transform":[{"calculate":"90+200*(datum.bmi-18)/16","as":"x"},{"calculate":"387+148*(datum.bmi-18)/16","as":"y"}],
"encoding":{"x":{"field":"x","type":"quantitative","axis":null,"scale":{"domain":[0,564],"range":[0,564],"nice":false,"zero":false}},"y":{"field":"y","type":"quantitative","axis":null,"scale":{"domain":[0,568],"range":[0,568],"nice":false,"zero":false}},"text":{"field":"label"}}},
{"data":{"values":[{"label":"60","age":60},{"label":"50","age":50},{"label":"40","age":40},{"label":"30","age":30},{"label":"20","age":20}]},"mark":{"type":"text","font":"Liberation Serif","fontSize":20,"align":"center","baseline":"middle","dx":13.5,"dy":12,"color":"#111111"},
"transform":[{"calculate":"290+247*(70-datum.age)/60","as":"x"},{"calculate":"535-127*(70-datum.age)/60","as":"y"}],
"encoding":{"x":{"field":"x","type":"quantitative","axis":null,"scale":{"domain":[0,564],"range":[0,564],"nice":false,"zero":false}},"y":{"field":"y","type":"quantitative","axis":null,"scale":{"domain":[0,568],"range":[0,568],"nice":false,"zero":false}},"text":{"field":"label"}}},
{"data":{"values":[{"label":"GFR (mL/min)","bmi":18,"age":81.4,"gfr":61,"angle":268},{"label":"BMI (kg/m²)","bmi":26.2,"age":82.9,"gfr":0,"angle":38},{"label":"Donor age (years)","bmi":37.97,"age":42.3,"gfr":0,"angle":331}]},"mark":{"type":"text","font":"Liberation Serif","fontSize":22,"align":"center","baseline":"middle","color":"#111111"},
"transform":[{"calculate":"(datum.bmi-18)/16","as":"u"},{"calculate":"(70-datum.age)/60","as":"v"},{"calculate":"datum.gfr/100","as":"w"},{"calculate":"90+200*datum.u+245*datum.v+2*datum.u*datum.v+datum.w*(-12+10*datum.u+10*datum.v+4*datum.u*datum.v)","as":"x"},{"calculate":"387+148*datum.u-125*datum.v-2*datum.u*datum.v+datum.w*(-275-30*datum.u+28*datum.v+3*datum.u*datum.v)","as":"y"}],
"encoding":{"x":{"field":"x","type":"quantitative","axis":null,"scale":{"domain":[0,564],"range":[0,564],"nice":false,"zero":false}},"y":{"field":"y","type":"quantitative","axis":null,"scale":{"domain":[0,568],"range":[0,568],"nice":false,"zero":false}},"text":{"field":"label"},"angle":{"field":"angle","type":"quantitative","scale":null}}}
]}
